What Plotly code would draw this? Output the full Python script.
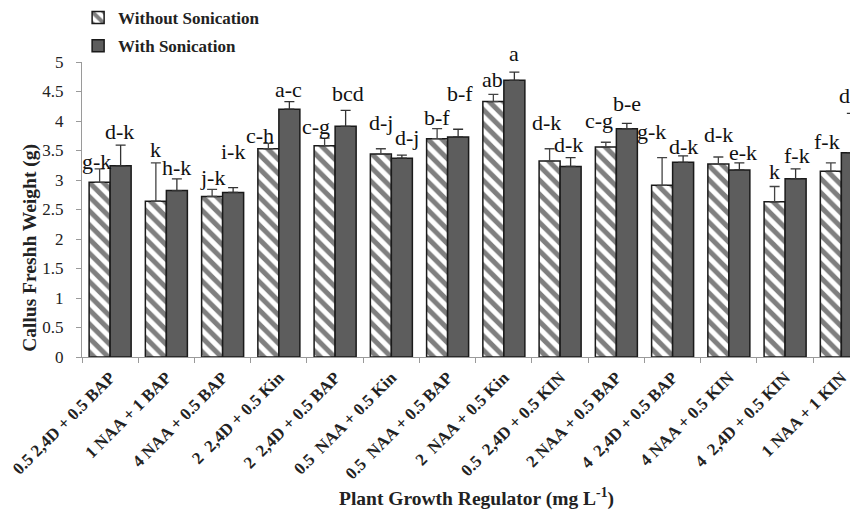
import plotly.graph_objects as go

categories = [
    "0.5 2,4D + 0.5 BAP", "1 NAA + 1 BAP", "4 NAA + 0.5 BAP", "2\u00a0 2,4D + 0.5 Kin",
    "2\u00a0 2,4D + 0.5 BAP", "0.5\u00a0 NAA + 0.5 Kin", "0.5\u00a0 NAA + 0.5 BAP", "2\u00a0 NAA + 0.5 Kin",
    "0.5\u00a0 2,4D + 0.5 KIN", "2 NAA + 0.5 BAP", "4\u00a0 2,4D + 0.5 BAP", "4 NAA + 0.5 KIN",
    "4\u00a0 2,4D + 0.5 KIN", "1 NAA + 1 KIN",
]
without_son = [2.96, 2.64, 2.72, 3.53, 3.58, 3.44, 3.70, 4.33, 3.32, 3.56, 2.91, 3.27, 2.63, 3.15]
without_err = [0.23, 0.65, 0.12, 0.09, 0.13, 0.09, 0.17, 0.12, 0.21, 0.08, 0.47, 0.12, 0.26, 0.14]
with_son = [3.24, 2.82, 2.79, 4.20, 3.91, 3.37, 3.73, 4.69, 3.23, 3.87, 3.30, 3.17, 3.02, 3.46]
with_err = [0.35, 0.20, 0.08, 0.13, 0.27, 0.05, 0.13, 0.14, 0.15, 0.09, 0.11, 0.12, 0.17, 0.67]
without_letters = ["g-k", "k", "j-k", "c-h", "c-g", "d-j", "b-f", "ab", "d-k", "c-g", "g-k", "d-k", "k", "f-k"]
with_letters = ["d-k", "h-k", "i-k", "a-c", "bcd", "d-j", "b-f", "a", "d-k", "b-e", "d-k", "e-k", "f-k", "d-k"]

# label placement (pixels, style only)
without_dy = [21, 52, 19, 13, 19, 32, 21, 22, 39, 26, 54, 30, 30, 30]
without_dx = [-3, 0, 0, -8, -9, 0, 0, -1, -3, -7, -11, 0, 0, -4]
with_dy = [34, 23, 41, 20, 33, 21, 43, 27, 22, 25, 16, 17, 23, 57]
with_dx = [-1, 0, 0, -1, 2, 5, 2, 0, -2, 0, 0, 4, 1, 2]

SERIF = "Liberation Serif"
n = len(categories)

fig = go.Figure()
fig.add_trace(go.Bar(
    name="Without Sonication", x=categories, y=without_son,
    marker=dict(color="white", line=dict(color="#1a1a1a", width=1.5),
                pattern=dict(shape="\\", fgcolor="#000000", bgcolor="white", size=10, solidity=0.5)),
    error_y=dict(type="data", symmetric=False, array=without_err, arrayminus=[0] * n,
                 color="#444444", thickness=1.3, width=5),
    legendgroup="a",
))
fig.add_trace(go.Bar(
    name="With Sonication", x=categories, y=with_son,
    marker=dict(color="#5d5d5d", line=dict(color="#1a1a1a", width=1.5)),
    error_y=dict(type="data", symmetric=False, array=with_err, arrayminus=[0] * n,
                 color="#333333", thickness=1.3, width=5),
    legendgroup="b",
))

annotations = []
for i, c in enumerate(categories):
    annotations.append(dict(x=c, y=without_son[i], xref="x", yref="y", text=without_letters[i],
                            showarrow=False, xshift=-10.5 + without_dx[i], yshift=without_dy[i],
                            font=dict(family=SERIF, size=22, color="#111111")))
    annotations.append(dict(x=c, y=with_son[i], xref="x", yref="y", text=with_letters[i],
                            showarrow=False, xshift=10.5 + with_dx[i], yshift=with_dy[i],
                            font=dict(family=SERIF, size=22, color="#111111")))

annotations.append(dict(x=-0.067, y=0.37, xref="paper", yref="paper", xanchor="center", yanchor="middle",
                        text="<b>Callus Freshh Weight (g)</b>",
                        textangle=-90, showarrow=False, font=dict(family=SERIF, size=19.5, color="#222222")))
annotations.append(dict(x=0.508, y=-0.475, xref="paper", yref="paper", xanchor="center", yanchor="middle",
                        text="<b>Plant Growth Regulator (mg L<sup>-1</sup>)</b>",
                        showarrow=False, font=dict(family=SERIF, size=19.5, color="#222222")))

# page body has an 8px margin, so the figure is offset by (8, 8) in the window
fig.update_layout(
    width=858, height=516,
    margin=dict(l=74, r=8, t=54, b=167, autoexpand=False),
    paper_bgcolor="white", plot_bgcolor="white",
    barmode="group", bargap=0.253, bargroupgap=0,
    font=dict(family=SERIF, color="#222222"),
    showlegend=True,
    legend=dict(x=-0.005, y=1.21, xanchor="left", yanchor="top", bgcolor="rgba(0,0,0,0)",
                font=dict(family=SERIF, size=17, color="#222222", weight="bold"),
                tracegroupgap=3, itemwidth=30),
    annotations=annotations,
    xaxis=dict(range=[-0.5, 13.296], showline=True, linecolor="#9a9a9a", linewidth=1,
               ticks="outside", tickson="boundaries", ticklen=5, tickcolor="#9a9a9a",
               tickangle=-45, ticklabelstandoff=3,
               tickfont=dict(family=SERIF, size=17, color="#222222", weight="bold"),
               showgrid=False, automargin=False),
    yaxis=dict(range=[0, 5], dtick=0.5, showline=True, linecolor="#9a9a9a", linewidth=1,
               ticks="outside", ticklen=5, tickcolor="#9a9a9a", showgrid=False, zeroline=False,
               ticklabelstandoff=9, automargin=False,
               tickfont=dict(family=SERIF, size=17, color="#222222")),
)

fig.write_html("out.html")
